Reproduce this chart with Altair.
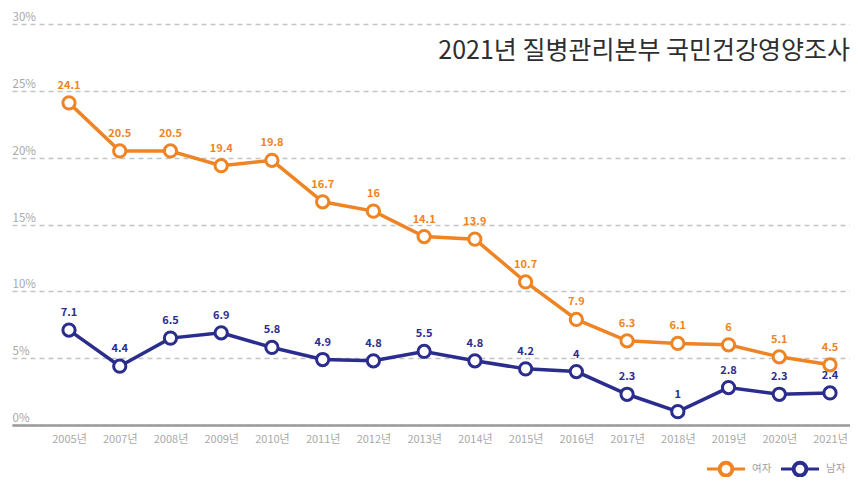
import altair as alt
import pandas as pd

years = ["2005", "2007", "2008", "2009", "2010", "2011", "2012", "2013",
         "2014", "2015", "2016", "2017", "2018", "2019", "2020", "2021"]
women = [24.1, 20.5, 20.5, 19.4, 19.8, 16.7, 16, 14.1, 13.9, 10.7, 7.9, 6.3, 6.1, 6, 5.1, 4.5]
men = [7.1, 4.4, 6.5, 6.9, 5.8, 4.9, 4.8, 5.5, 4.8, 4.2, 4, 2.3, 1, 2.8, 2.3, 2.4]
series_names = ["여자", "남자"]
series_colors = ["#EE8424", "#2B2D8E"]
title_text = "2021년 질병관리본부 국민건강영양조사"
y_ticks = [0, 5, 10, 15, 20, 25, 30]

FONT = "Noto Sans CJK KR"

rows = []
for i, y in enumerate(years):
    rows.append({"idx": i, "year": y + "년", "series": series_names[0], "value": women[i]})
    rows.append({"idx": i, "year": y + "년", "series": series_names[1], "value": men[i]})
df = pd.DataFrame(rows)

W, H = 838, 401
label_arr = "[" + ",".join("'" + y + "년'" for y in years) + "]"

x_enc = alt.X("idx:Q", scale=alt.Scale(domain=[-1.1236, 15.394], nice=False, zero=False),
              axis=alt.Axis(values=list(range(len(years))), labelExpr=label_arr + "[datum.value]",
                            title=None, grid=False, ticks=False, domain=True,
                            domainColor="#9a9a9a", domainWidth=2.5,
                            labelColor="#a8a8a8", labelFontSize=11, labelFont=FONT,
                            labelPadding=8))
y_enc = alt.Y("value:Q", scale=alt.Scale(domain=[0, 30], nice=False),
              axis=alt.Axis(values=y_ticks, labelExpr="datum.value + '%'", title=None,
                            grid=True, gridDash=[5, 4], gridColor="#c4c4c4", gridWidth=1.5,
                            ticks=False, tickSize=0, domain=False, labelAlign="left",
                            labelBaseline="bottom", labelPadding=0, labelOffset=-1.5,
                            labelColor="#a8a8a8", labelFontSize=11.5, labelFont=FONT))

ring_symbol = ("M-1,0H-0.36M0.36,0H1"
               "M-0.36,0A0.36,0.36 0 1,0 0.36,0A0.36,0.36 0 1,0 -0.36,0Z"
               "M-0.31,0A0.31,0.31 0 1,1 0.31,0A0.31,0.31 0 1,1 -0.31,0Z")
color_enc = alt.Color("series:N", scale=alt.Scale(domain=series_names, range=series_colors),
                      legend=alt.Legend(title=None, orient="none", legendX=693, legendY=424,
                                        direction="horizontal", symbolType=ring_symbol,
                                        symbolSize=1450, symbolStrokeWidth=3,
                                        labelFont=FONT, labelFontSize=10.5, labelColor="#a0a0a0",
                                        labelOffset=5, columnPadding=2))

base = alt.Chart(df)
lines = base.mark_line(strokeWidth=3.5).encode(x=x_enc, y=y_enc, color=color_enc, detail="series:N")
points = base.mark_point(shape="circle", filled=False, fill="white", fillOpacity=1,
                         strokeWidth=3, size=150, opacity=1).encode(
    x="idx:Q", y="value:Q", color=alt.Color("series:N"))
labels = base.mark_text(dy=-17, fontSize=11, font=FONT, fontWeight="bold", baseline="middle").encode(
    x="idx:Q", y="value:Q", text="value:Q", color=alt.Color("series:N"))

title = alt.Chart(pd.DataFrame({"t": [title_text]})).mark_text(
    align="right", baseline="middle", fontSize=25, font=FONT, color="#2e2e2e"
).encode(x=alt.value(W), y=alt.value(27), text="t:N")

chart = alt.layer(lines, points, labels, title).properties(
    width=W, height=H, autosize=alt.AutoSizeParams(type="none"),
    padding={"left": 4, "top": 16, "right": 0, "bottom": 52},
    background="white"
).configure_view(stroke=None)

chart.save("out.html", embed_options={"renderer": "svg", "actions": False})
